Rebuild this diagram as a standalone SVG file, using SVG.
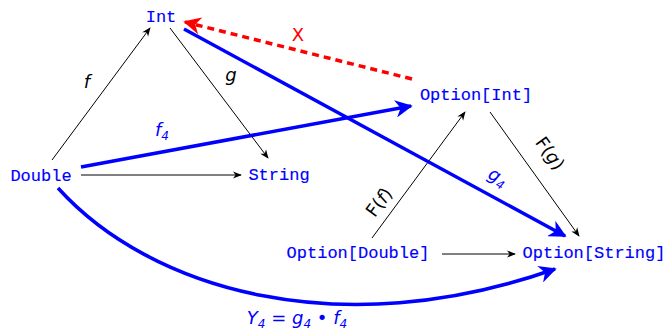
<svg xmlns="http://www.w3.org/2000/svg" width="671" height="330" viewBox="0 0 671 330">
<defs>
<style>
.node{font-family:"Liberation Mono","DejaVu Sans Mono",monospace;font-size:17px;fill:#0000ff;stroke:#0000ff;stroke-width:0.15;text-anchor:middle}
.lbl{font-family:"DejaVu Sans","Liberation Sans",sans-serif;font-size:18px;font-style:italic;fill:#000;text-anchor:middle}
.blbl{font-family:"DejaVu Sans","Liberation Sans",sans-serif;font-size:18px;font-style:italic;fill:#0000ff;text-anchor:middle}
.thin{stroke:#000;stroke-width:1;fill:none;marker-end:url(#ah)}
.thick{stroke:#0000ff;stroke-width:3.5;fill:none;marker-end:url(#bh)}
.sub{font-size:12px}
</style>
<marker id="ah" viewBox="0 0 10 10" refX="9" refY="5" markerWidth="9" markerHeight="9" markerUnits="userSpaceOnUse" orient="auto">
<path d="M0,1 L10,5 L0,9 L3,5 Z" fill="#000"/>
</marker>
<marker id="bh" viewBox="0 0 10 10" refX="9" refY="5" markerWidth="5" markerHeight="5" orient="auto">
<path d="M0,0 L10,5 L0,10 L3,5 Z" fill="#0000ff"/>
</marker>
<marker id="rh" viewBox="0 0 10 10" refX="9" refY="5" markerWidth="5" markerHeight="5" orient="auto">
<path d="M0,0 L10,5 L0,10 L3,5 Z" fill="#ff0000"/>
</marker>
</defs>
<rect width="671" height="330" fill="#fff"/>
<g id="connectors">
<line class="thin" x1="52" y1="160" x2="150" y2="28"/>
<line class="thin" x1="170" y1="28" x2="268" y2="158"/>
<line class="thin" x1="81" y1="175" x2="241" y2="175"/>
<line class="thin" x1="372" y1="238" x2="465" y2="112"/>
<line class="thin" x1="490" y1="112" x2="579" y2="236"/>
<line class="thin" x1="442" y1="254" x2="515" y2="254"/>
<line class="thick" x1="81" y1="167" x2="411" y2="106"/>
<line class="thick" x1="184" y1="29" x2="565" y2="236"/>
<path class="thick" d="M58,188 C150,290 340,345 555,269"/>
<line x1="412" y1="79" x2="185" y2="22" stroke="#ff0000" stroke-width="3.5" stroke-dasharray="7,5" marker-end="url(#rh)"/>
<text class="lbl" x="87" y="88">f</text>
<text class="lbl" x="231" y="81">g</text>
<text class="blbl" x="162" y="136">f<tspan class="sub" dy="4">4</tspan></text>
<text x="298" y="41" font-family="DejaVu Sans,Liberation Sans,sans-serif" font-size="18" fill="#ff0000" text-anchor="middle">X</text>
<text class="blbl" transform="translate(495,182) rotate(28.6)">g<tspan class="sub" dy="4">4</tspan></text>
<text class="lbl" style="font-style:normal" transform="translate(384,206) rotate(-53.5)">F(<tspan font-style="italic">f</tspan>)</text>
<text class="lbl" style="font-style:normal" transform="translate(545,157) rotate(54)">F(<tspan font-style="italic">g</tspan>)</text>
<text class="blbl" x="297" y="324">Y<tspan class="sub" dy="4">4</tspan><tspan dy="-4" style="font-style:normal"> = </tspan>g<tspan class="sub" dy="4">4</tspan><tspan dy="-4" style="font-style:normal"> • </tspan>f<tspan class="sub" dy="4">4</tspan></text>
</g>
<g id="n-int"><text class="node" x="161" y="22">Int</text></g>
<g id="n-double"><text class="node" x="41" y="181">Double</text></g>
<g id="n-string"><text class="node" x="279" y="180">String</text></g>
<g id="n-optint"><text class="node" x="476" y="100">Option[Int]</text></g>
<g id="n-optdouble"><text class="node" x="358" y="258">Option[Double]</text></g>
<g id="n-optstring"><text class="node" x="594" y="258">Option[String]</text></g>
</svg>
